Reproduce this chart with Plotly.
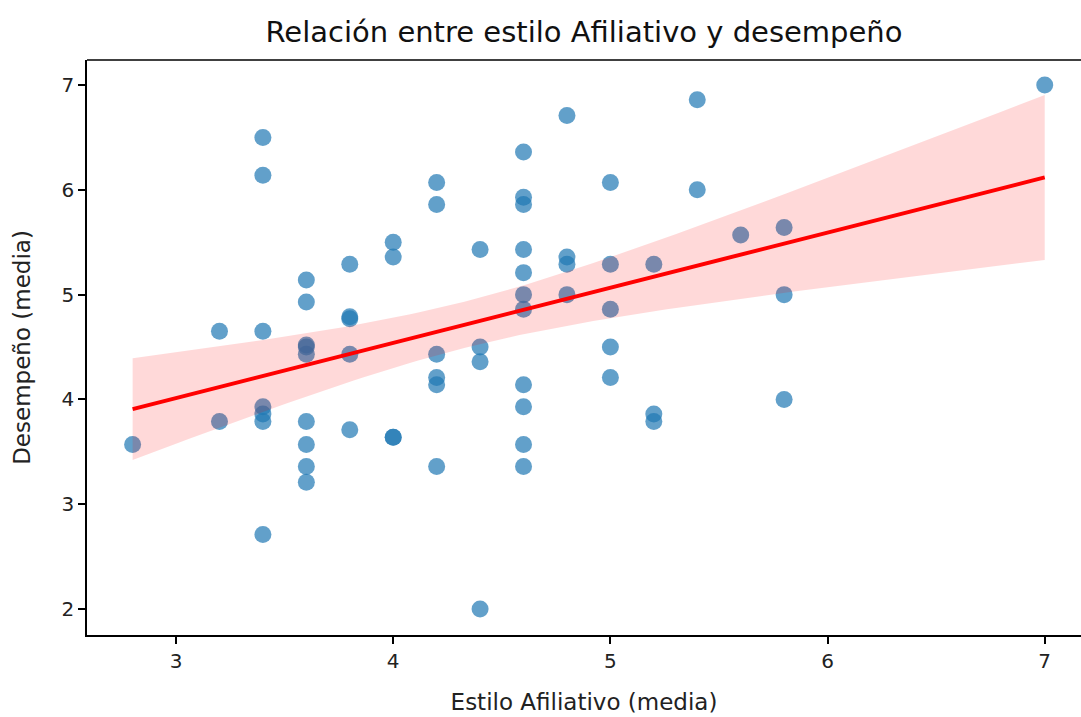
import numpy as np
import plotly.graph_objects as go

# Data (x = Estilo Afiliativo media, y = Desempeño media)
estilo = [2.8,
          3.2, 3.2,
          3.4, 3.4, 3.4, 3.4, 3.4, 3.4, 3.4,
          3.6, 3.6, 3.6, 3.6, 3.6, 3.6, 3.6, 3.6, 3.6,
          3.8, 3.8, 3.8, 3.8, 3.8,
          4.0, 4.0, 4.0, 4.0,
          4.2, 4.2, 4.2, 4.2, 4.2, 4.2,
          4.4, 4.4, 4.4, 4.4,
          4.6, 4.6, 4.6, 4.6, 4.6, 4.6, 4.6, 4.6, 4.6, 4.6, 4.6,
          4.8, 4.8, 4.8, 4.8,
          5.0, 5.0, 5.0, 5.0, 5.0,
          5.2, 5.2, 5.2,
          5.4, 5.4,
          5.6,
          5.8, 5.8, 5.8,
          7.0]
desempeno = [3.57,
             4.65, 3.79,
             6.50, 6.14, 4.65, 3.93, 3.86, 3.79, 2.71,
             5.14, 4.93, 4.52, 4.50, 4.43, 3.79, 3.57, 3.36, 3.21,
             5.29, 4.79, 4.77, 4.43, 3.71,
             5.50, 5.36, 3.64, 3.64,
             6.07, 5.86, 4.43, 4.21, 4.14, 3.36,
             5.43, 4.50, 4.36, 2.00,
             6.36, 5.93, 5.86, 5.43, 5.21, 5.00, 4.86, 4.14, 3.93, 3.57, 3.36,
             6.71, 5.36, 5.29, 5.00,
             6.07, 5.29, 4.86, 4.50, 4.21,
             5.29, 3.86, 3.79,
             6.86, 6.00,
             5.57,
             5.64, 5.00, 4.00,
             7.00]

titulo = "Relación entre estilo Afiliativo y desempeño"
x_label = "Estilo Afiliativo (media)"
y_label = "Desempeño (media)"
x_ticks = [3, 4, 5, 6, 7]
y_ticks = [2, 3, 4, 5, 6, 7]

# Linear regression with 95% confidence band (as seaborn regplot)
x = np.array(estilo)
y = np.array(desempeno)
n = len(x)
b1, b0 = np.polyfit(x, y, 1)
grid = np.linspace(x.min(), x.max(), 100)
pred = b0 + b1 * grid
resid = y - (b0 + b1 * x)
s = np.sqrt(np.sum(resid ** 2) / (n - 2))
sxx = np.sum((x - x.mean()) ** 2)
se = s * np.sqrt(1.0 / n + (grid - x.mean()) ** 2 / sxx)
tval = 1.9
upper = pred + tval * se
lower = pred - tval * se

fig = go.Figure()
fig.add_trace(go.Scatter(
    x=estilo, y=desempeno, mode="markers",
    marker=dict(color="rgba(31,119,180,0.7)", size=17, line=dict(width=0)),
    showlegend=False, hoverinfo="x+y"))
fig.add_trace(go.Scatter(
    x=np.concatenate([grid, grid[::-1]]), y=np.concatenate([upper, lower[::-1]]),
    fill="toself", fillcolor="rgba(255,0,0,0.15)", line=dict(width=0),
    mode="lines", showlegend=False, hoverinfo="skip"))
fig.add_trace(go.Scatter(
    x=grid, y=pred, mode="lines", line=dict(color="red", width=4),
    showlegend=False))

font_family = "DejaVu Sans"
fig.update_layout(
    width=1081, height=717,
    margin=dict(l=87, r=0, t=60, b=82),
    plot_bgcolor="white", paper_bgcolor="white",
    font=dict(family=font_family, color="black"),
    title=dict(text=titulo, x=0.5, xref="paper", xanchor="center",
               y=1 - 32 / 717, yref="container", yanchor="middle",
               font=dict(size=29, family=font_family, color="#111111")),
    xaxis=dict(range=[2.59, 7.167], tickvals=x_ticks, ticktext=[str(t) for t in x_ticks],
               showgrid=False, zeroline=False, showline=True, linecolor="black", linewidth=1.6,
               mirror=False, ticks="outside", ticklen=7, tickwidth=1.6, tickcolor="black",
               tickfont=dict(size=20, color="#222222"),
               title=dict(text=x_label, font=dict(size=23, color="#222222"), standoff=22)),
    yaxis=dict(range=[1.752, 7.239], tickvals=y_ticks, ticktext=[str(t) for t in y_ticks],
               showgrid=False, zeroline=False, showline=True, linecolor="black", linewidth=1.6,
               mirror=False, ticks="outside", ticklen=7, tickwidth=1.6, tickcolor="black",
               tickfont=dict(size=20, color="#222222"),
               title=dict(text=y_label, font=dict(size=23, color="#222222"), standoff=24)),
    shapes=[dict(type="line", xref="paper", yref="paper", x0=0, x1=1, y0=1, y1=1,
                 line=dict(color="black", width=1.6))],
)

fig.write_html("out.html")
